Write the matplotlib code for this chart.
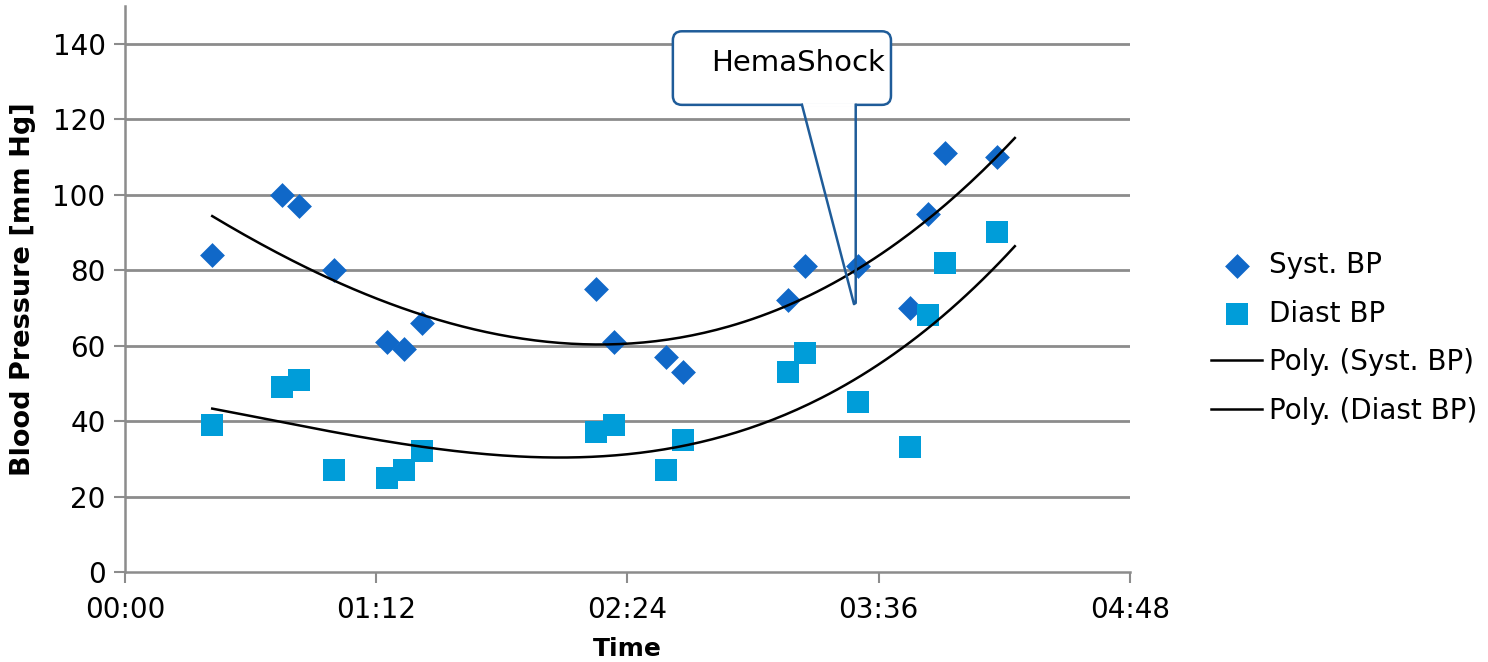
import numpy as np
import matplotlib
matplotlib.use("Agg")
import matplotlib.pyplot as plt
from matplotlib.patches import FancyBboxPatch

# measurement times in minutes after start
minutes = [25, 45, 50, 60, 75, 80, 85, 135, 140, 155, 160,
           190, 195, 210, 225, 230, 235, 250]
syst_bp = [84, 100, 97, 80, 61, 59, 66, 75, 61, 57, 53,
           72, 81, 81, 70, 95, 111, 110]
diast_bp = [39, 49, 51, 27, 25, 27, 32, 37, 39, 27, 35,
            53, 58, 45, 33, 68, 82, 90]

# values of the polynomial trend lines at a few times
trend_min = [25, 85, 136, 182, 230, 255]
syst_trend = [94.0, 69.5, 58.9, 67.4, 95.2, 114.0]
diast_trend = [43.5, 32.6, 30.6, 40.8, 62.0, 87.6]

xtick_min = [0, 72, 144, 216, 288]
xtick_labels = ["00:00", "01:12", "02:24", "03:36", "04:48"]
yticks = [0, 20, 40, 60, 80, 100, 120, 140]

syst_col = "#1068C8"
diast_col = "#009DD9"
grid_col = "#8C8C8C"
call_col = "#1F5C99"

plt.rcParams["font.family"] = "DejaVu Sans"
fig = plt.figure(figsize=(14.88, 6.62), dpi=100)
ax = fig.add_axes([125 / 1488, 90 / 662, 1005 / 1488, 566 / 662])

ax.scatter(minutes, syst_bp, marker="D", s=160, color=syst_col,
           linewidths=0, zorder=3, label="Syst. BP")
ax.scatter(minutes, diast_bp, marker="s", s=235, color=diast_col,
           linewidths=0, zorder=3, label="Diast BP")

# smooth polynomial curves through the trend values
t = np.linspace(trend_min[0], trend_min[-1], 200)
ps = np.polyfit(trend_min, syst_trend, 3)
pd_ = np.polyfit(trend_min, diast_trend, 3)
ax.plot(t, np.polyval(ps, t), color="black", lw=1.8, zorder=4,
        label="Poly. (Syst. BP)")
ax.plot(t, np.polyval(pd_, t), color="black", lw=1.8, zorder=4,
        label="Poly. (Diast BP)")

ax.set_xlim(0, 288)
ax.set_ylim(0, 150)
ax.set_xticks(xtick_min)
ax.set_xticklabels(xtick_labels)
ax.set_yticks(yticks)
ax.tick_params(labelsize=20, length=8, width=1.5, color=grid_col,
               direction="out")
ax.tick_params(axis="x", pad=9)
ax.tick_params(axis="y", pad=6)
for y in yticks[1:]:
    ax.axhline(y, color=grid_col, lw=2, zorder=1)
for side in ["top", "right"]:
    ax.spines[side].set_visible(False)
for side in ["left", "bottom"]:
    ax.spines[side].set_color(grid_col)
    ax.spines[side].set_linewidth(1.8)

ax.set_xlabel("Time", fontsize=18, fontweight="bold", labelpad=10)
ax.set_ylabel("Blood Pressure [mm Hg]", fontsize=19.5, fontweight="bold",
              labelpad=12)

# callout box pointing at the HemaShock moment
tip = (208.9, 71.0)
bx0, bx1, by0, by1 = 157.0, 219.5, 123.8, 143.3
box = FancyBboxPatch((bx0, by0), bx1 - bx0, by1 - by0,
                     boxstyle="round,pad=0,rounding_size=2.6",
                     mutation_aspect=0.925, facecolor="white",
                     edgecolor=call_col, lw=1.8, zorder=6, clip_on=False)
ax.add_patch(box)
ax.plot([194.2, 209.2], [by0, by0], color="white", lw=2.8, zorder=7,
        solid_capstyle="butt")
ax.plot([194.0, tip[0], 209.4, 209.4], [by0, tip[1], tip[1] + 0.3, by0],
        color=call_col, lw=1.8, zorder=8)
ax.text(217.7, 135.0, "HemaShock", fontsize=21, ha="right", va="center",
        zorder=9)

ax.legend(loc="center left", bbox_to_anchor=(1211 / 1488, 0.4897),
          bbox_transform=fig.transFigure, frameon=False,
          fontsize=20, handlelength=1.85, handletextpad=0.25,
          labelspacing=0.74, borderaxespad=0, borderpad=0)

fig.savefig("out.png", dpi=100)
